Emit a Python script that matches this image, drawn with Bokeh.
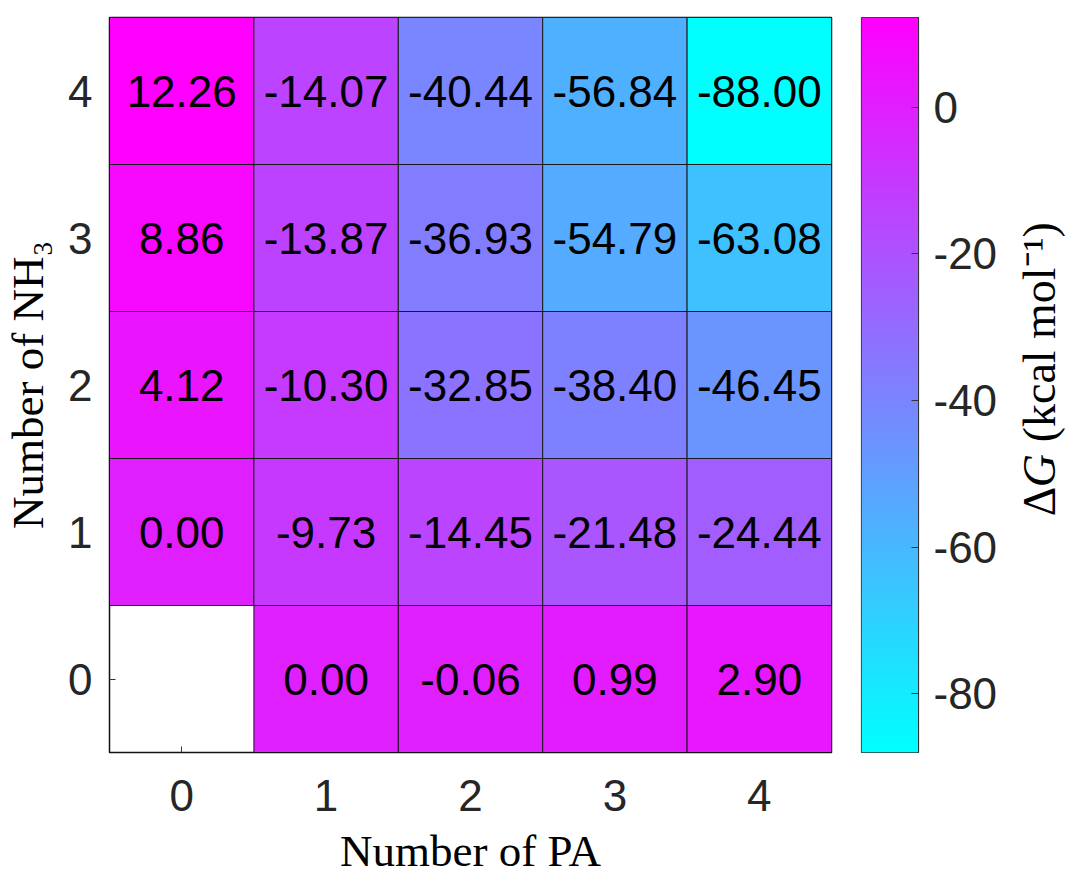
import numpy as np
from math import pi
from bokeh.plotting import figure
from bokeh.models import Range1d, LinearColorMapper, FixedTicker, ColumnDataSource, PrintfTickFormatter
from bokeh.layouts import row
from bokeh.embed import file_html
from bokeh.resources import INLINE
from bokeh.core.properties import value
from bokeh.transform import linear_cmap

# ---------------- data ----------------
pa_counts = [0, 1, 2, 3, 4]
nh3_counts = [0, 1, 2, 3, 4]
# dG (kcal/mol) for each number of NH3 (rows), columns = number of PA 0..4
dg_nh3_0 = [None, 0.00, -0.06, 0.99, 2.90]
dg_nh3_1 = [0.00, -9.73, -14.45, -21.48, -24.44]
dg_nh3_2 = [4.12, -10.30, -32.85, -38.40, -46.45]
dg_nh3_3 = [8.86, -13.87, -36.93, -54.79, -63.08]
dg_nh3_4 = [12.26, -14.07, -40.44, -56.84, -88.00]
cbar_ticks = [-80, -60, -40, -20, 0]
clim_low, clim_high = -88.00, 12.26

rows = [dg_nh3_0, dg_nh3_1, dg_nh3_2, dg_nh3_3, dg_nh3_4]
xs, ys, vals, labels = [], [], [], []
for n, r in zip(nh3_counts, rows):
    for pa, v in zip(pa_counts, r):
        if v is None:
            continue
        xs.append(pa)
        ys.append(n)
        vals.append(v)
        labels.append("%.2f" % v)
src = ColumnDataSource(dict(pa=xs, nh3=ys, dg=vals, label=labels))

# MATLAB-like "cool" colormap (cyan -> magenta)
cool = ["#%02x%02x%02x" % (i, 255 - i, 255) for i in range(256)]

SANS = "Liberation Sans"
SERIF = "Liberation Serif"
TICK_COLOR = "#262626"
H = 878

# ---------------- heatmap ----------------
p = figure(width=841, height=H,
           x_range=Range1d(-0.5, 4.5), y_range=Range1d(-0.5, 4.5),
           output_backend="svg", toolbar_location=None,
           min_border_left=109, min_border_right=10,
           min_border_top=17, min_border_bottom=H - 17 - 737)
p.rect(x="pa", y="nh3", width=1, height=1, source=src,
       fill_color=linear_cmap("dg", cool, clim_low, clim_high),
       line_color="#1a1a1a", line_width=1)
p.text(x="pa", y="nh3", text="label", source=src,
       text_font=value(SANS), text_font_size="44px",
       text_align="center", text_baseline="middle", text_color="black")

p.grid.visible = False
p.outline_line_color = "#111111"
p.outline_line_width = 1.5

for ax in (p.xaxis[0], p.yaxis[0]):
    # labels at every count; only the tick at 0 is visible (others hidden under cells)
    ax.ticker = FixedTicker(ticks=pa_counts, minor_ticks=[0])
    ax.major_tick_in = 0
    ax.major_tick_out = 0
    ax.minor_tick_in = 6
    ax.minor_tick_out = 0
    ax.minor_tick_line_color = "#333333"
    ax.axis_line_color = "#111111"
    ax.major_label_text_font = SANS
    ax.major_label_text_font_size = "44px"
    ax.major_label_text_color = TICK_COLOR
    ax.axis_label_text_font = SERIF
    ax.axis_label_text_font_style = "normal"
    ax.axis_label_text_font_size = "45px"
    ax.axis_label_text_color = "black"

p.xaxis.axis_label = "Number of PA"
p.yaxis.axis_label = "Number of NH\u2083"
p.xaxis.major_label_standoff = 27
p.xaxis.axis_label_standoff = 12
p.yaxis.major_label_standoff = 17
p.yaxis.axis_label_standoff = 12

# ---------------- colorbar ----------------
cb = figure(width=167, height=H,
            x_range=Range1d(0, 1), y_range=Range1d(clim_low, clim_high),
            output_backend="svg", toolbar_location=None,
            x_axis_location=None, y_axis_location="right",
            min_border_left=20, min_border_right=90,
            min_border_top=16, min_border_bottom=H - 16 - 737)
grad = np.linspace(clim_low, clim_high, 256).reshape(256, 1)
cb.image(image=[grad], x=0, y=clim_low, dw=1, dh=clim_high - clim_low,
         color_mapper=LinearColorMapper(palette=cool, low=clim_low, high=clim_high))
cb.grid.visible = False
cb.outline_line_color = "#333333"
cb.outline_line_width = 1.2
ya = cb.yaxis[0]
ya.ticker = FixedTicker(ticks=cbar_ticks)
ya.formatter = PrintfTickFormatter(format="%d")
ya.major_tick_in = 7
ya.major_tick_out = 0
ya.minor_tick_line_color = None
ya.major_tick_line_color = "#333333"
ya.axis_line_color = "#333333"
ya.major_label_text_font = SANS
ya.major_label_text_font_size = "44px"
ya.major_label_text_color = TICK_COLOR
ya.major_label_standoff = 15

# ---------------- colorbar label ----------------
# this panel's frame is aligned with the heatmap frame (screen y 17..754);
# ranges are set in screen pixels of that frame.
LW = 58
FRAME_TOP, FRAME_BOT = 17, 754
lb = figure(width=LW, height=H,
            x_range=Range1d(0, LW), y_range=Range1d(0, FRAME_BOT - FRAME_TOP),
            output_backend="svg", toolbar_location=None,
            x_axis_location=None, y_axis_location=None,
            min_border=0)
lb.grid.visible = False
lb.outline_line_color = None
lab_x = 1039 - 1008                 # centre line of the rotated label
lab_y0 = FRAME_BOT - 517            # start (bottom) of the label
common = dict(angle=pi / 2, text_font=value(SERIF), text_font_size="46px",
              text_align="left", text_baseline="middle", text_color="black")
lb.text(x=[lab_x], y=[lab_y0], text=["\u0394"], **common)
lb.text(x=[lab_x], y=[lab_y0 + 29], text=["G"], text_font_style="italic", **common)
lb.text(x=[lab_x], y=[lab_y0 + 29 + 34 + 11], text=["(kcal mol\u207b\u00b9)"], **common)

layout = row(p, cb, lb)
open("out.html", "w").write(file_html(layout, INLINE))
